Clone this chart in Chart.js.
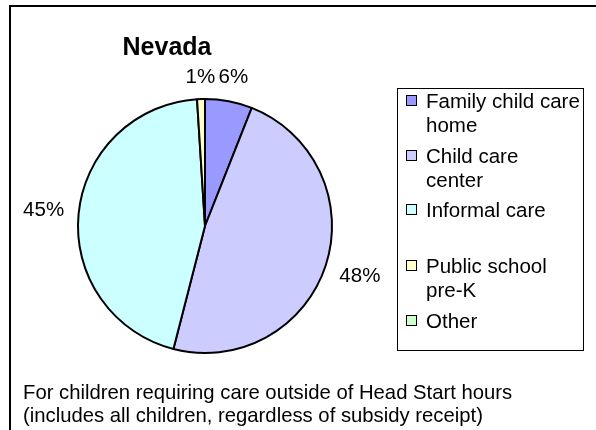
<!DOCTYPE html>
<html>
<head>
<meta charset="utf-8">
<script src="https://cdn.jsdelivr.net/npm/chart.js@4.4.0/dist/chart.umd.min.js"></script>
<style>
  body { margin: 0; background: #fff; font-family: "Liberation Sans", Arial, sans-serif; }
  #wrap { position: relative; width: 596px; height: 430px; overflow: hidden; }
  #frame { position: absolute; left: 9px; top: 5px; width: 620px; height: 460px;
           border-top: 2px solid #000; border-left: 2px solid #000; }
  #pie { position: absolute; left: 0; top: 0; }
  #title { position: absolute; left: 67px; width: 200px; top: 32px; text-align: center;
           font-weight: bold; font-size: 25px; line-height: 28px; color: #000; }
  #legend { position: absolute; left: 397px; top: 88px; width: 187px; height: 263px;
            border: 1px solid #000; box-sizing: border-box; }
  .item { position: absolute; left: 8px; width: 178px; font-size: 20.5px; line-height: 24px; color: #000; }
  .item span.box { position: absolute; left: 0; top: 6px; width: 9px; height: 9px; border: 1px solid #000; }
  .item span.txt { display: block; margin-left: 20px; white-space: nowrap; }
  #note { position: absolute; left: 23px; top: 381px; font-size: 20.3px; line-height: 23px; color: #000; white-space: nowrap; }
</style>
</head>
<body>
<div id="wrap">
  <div id="frame"></div>
  <canvas id="pie" width="596" height="430"></canvas>
  <div id="title"></div>
  <div id="legend"></div>
  <div id="note"></div>
</div>
<script>
var chartTitle = "Nevada";
var categories = ["Family child care home", "Child care center", "Informal care", "Public school pre-K", "Other"];
var legendLines = [["Family child care", "home"], ["Child care", "center"], ["Informal care"], ["Public school", "pre-K"], ["Other"]];
var shares = [6, 48, 45, 1, 0];
var sliceColors = ["#9999FF", "#CCCCFF", "#CCFFFF", "#FFFFCC", "#CCFFCC"];
var footnote = ["For children requiring care outside of Head Start hours",
                "(includes all children, regardless of subsidy receipt)"];

document.getElementById("title").textContent = chartTitle;
document.getElementById("note").innerHTML = footnote.join("<br>");

// legend, each entry gets two lines of room
var legend = document.getElementById("legend");
var entryTops = [0, 55, 109, 165, 220];
for (var i = 0; i < categories.length; i++) {
  var d = document.createElement("div");
  d.className = "item";
  d.style.top = entryTops[i] + "px";
  d.innerHTML = '<span class="box" style="background:' + sliceColors[i] + '"></span>' +
                '<span class="txt">' + legendLines[i].join("<br>") + '</span>';
  legend.appendChild(d);
}

// percent labels outside the slices
var outsideLabels = {
  id: "outsideLabels",
  afterDatasetsDraw: function(chart) {
    var ctx = chart.ctx;
    var meta = chart.getDatasetMeta(0);
    ctx.save();
    ctx.font = "20.5px 'Liberation Sans', Arial, sans-serif";
    ctx.fillStyle = "#000";
    ctx.textAlign = "center";
    ctx.textBaseline = "middle";
    meta.data.forEach(function(arc, i) {
      var v = shares[i];
      if (!v) return;
      var p = arc.getProps(["x", "y", "startAngle", "endAngle", "outerRadius"], true);
      var mid = (p.startAngle + p.endAngle) / 2;
      var txt = v + "%";
      var w = ctx.measureText(txt).width;
      var dist = p.outerRadius + 14 + Math.abs(Math.cos(mid)) * w / 2 + Math.abs(Math.sin(mid)) * 7.5;
      ctx.fillText(txt, p.x + Math.cos(mid) * dist, p.y + Math.sin(mid) * dist);
    });
    ctx.restore();
  }
};

new Chart("pie", {
  type: "pie",
  data: {
    labels: categories,
    datasets: [{
      data: shares,
      backgroundColor: sliceColors,
      borderColor: "#000",
      borderWidth: 2
    }]
  },
  options: {
    responsive: false,
    animation: false,
    layout: { padding: { left: 77, top: 98, right: 263, bottom: 76 } },
    plugins: {
      legend: { display: false },
      tooltip: { enabled: false }
    }
  },
  plugins: [outsideLabels]
});
</script>
</body>
</html>
